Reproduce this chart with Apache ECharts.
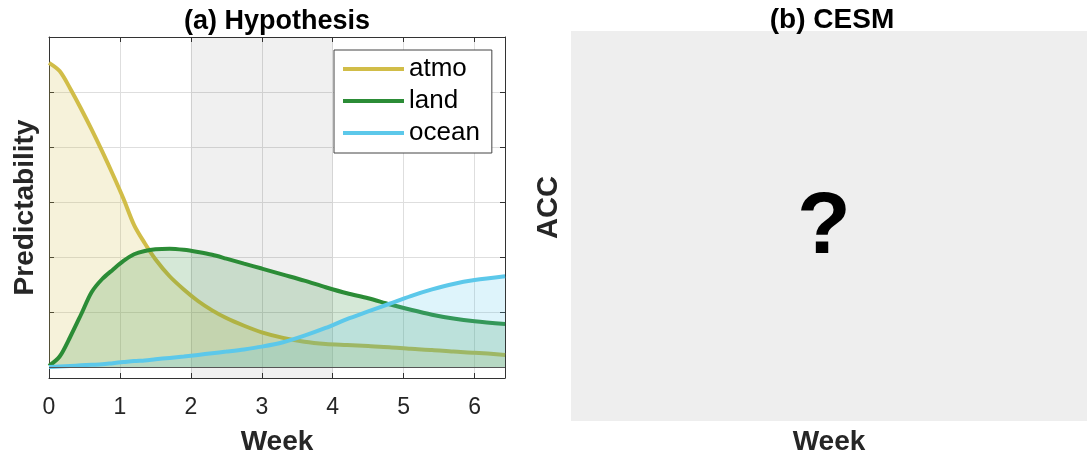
<!DOCTYPE html>
<html>
<head>
<meta charset="utf-8">
<script src="https://cdn.jsdelivr.net/npm/echarts@6/dist/echarts.min.js"></script>
<style>
html,body{margin:0;padding:0;background:#fff;}
#c{width:1087px;height:454px;}
</style>
</head>
<body>
<div id="c"></div>
<script>
// ---- data ----
const weeks = [0, 0.15, 0.3, 0.45, 0.6, 0.75, 0.9, 1.05, 1.2, 1.35, 1.5, 1.7, 1.9, 2.1, 2.3, 2.5, 2.75, 3.0, 3.3, 3.6, 3.9, 4.2, 4.5, 4.8, 5.1, 5.4, 5.7, 6.0, 6.43];
const atmo  = [0.553, 0.538, 0.506, 0.470, 0.432, 0.392, 0.350, 0.306, 0.258, 0.225, 0.196, 0.165, 0.141, 0.120, 0.103, 0.089, 0.075, 0.063, 0.053, 0.046, 0.042, 0.040, 0.038, 0.036, 0.033, 0.031, 0.028, 0.026, 0.022];
const land  = [0.002, 0.019, 0.055, 0.095, 0.136, 0.160, 0.177, 0.193, 0.205, 0.211, 0.214, 0.215, 0.213, 0.209, 0.204, 0.197, 0.188, 0.179, 0.168, 0.157, 0.145, 0.134, 0.125, 0.114, 0.104, 0.095, 0.088, 0.083, 0.078];
const ocean = [0.000, 0.001, 0.002, 0.003, 0.004, 0.005, 0.007, 0.009, 0.011, 0.012, 0.014, 0.0165, 0.019, 0.022, 0.025, 0.028, 0.032, 0.037, 0.045, 0.057, 0.071, 0.087, 0.101, 0.115, 0.129, 0.141, 0.151, 0.158, 0.165];
const seriesNames = ['atmo', 'land', 'ocean'];
const xTicks = [0, 1, 2, 3, 4, 5, 6];
const yTicks = [0, 0.1, 0.2, 0.3, 0.4, 0.5, 0.6];
const shadedWeeks = [2, 4];
const xMax = 45 / 7;
const yMin = -0.02, yMax = 0.6;

// ---- chart ----
const FONT = 'Liberation Sans, Arial, Helvetica, sans-serif';
const colors = ['#D1BD48', '#2B8C36', '#5CC8EA'];
const boxColor = '#333';
const gridColor = '#dedede';
const pairs = arr => weeks.map((w, i) => [w, arr[i]]);
const values = [atmo, land, ocean];

const chart = echarts.init(document.getElementById('c'), null, {renderer: 'canvas'});

const series = seriesNames.map((name, k) => {
  const s = {
    name: name,
    type: 'line',
    xAxisIndex: 0,
    yAxisIndex: 0,
    data: pairs(values[k]),
    symbol: 'none',
    smooth: 0.3,
    lineStyle: {color: colors[k], width: 4},
    itemStyle: {color: colors[k]},
    areaStyle: {color: colors[k], opacity: 0.2},
    z: 2 + k
  };
  if (k === 0) {
    s.markArea = {
      silent: true,
      z: 1,
      itemStyle: {color: 'rgba(0,0,0,0.06)'},
      data: [[{xAxis: shadedWeeks[0]}, {xAxis: shadedWeeks[1]}]]
    };
  }
  if (k === 2) {
    s.markLine = {
      silent: true,
      symbol: 'none',
      label: {show: false},
      lineStyle: {color: '#555', width: 1, type: 'solid'},
      data: [{yAxis: 0}]
    };
  }
  return s;
});

const hiddenAxis = (gi) => ({
  gridIndex: gi, type: 'value', min: 0, max: 1,
  axisLine: {show: false}, axisTick: {show: false}, axisLabel: {show: false}, splitLine: {show: false}
});

const option = {
  animation: false,
  backgroundColor: '#fff',
  textStyle: {fontFamily: FONT},
  grid: [
    {left: 49, top: 37, width: 456, height: 341, containLabel: false, outerBoundsMode: 'none'},
    {left: 571, top: 37, right: 0, height: 341, containLabel: false, outerBoundsMode: 'none'},
    {left: 571, top: 31, right: 0, bottom: 33, containLabel: false, outerBoundsMode: 'none',
     show: true, backgroundColor: '#eeeeee', borderWidth: 0}
  ],
  legend: {
    left: 334, top: 50,
    orient: 'vertical',
    icon: 'rect',
    itemWidth: 61, itemHeight: 4,
    itemGap: 0,
    padding: [3, 12, 4, 9],
    backgroundColor: '#fff',
    borderColor: '#444', borderWidth: 1, borderRadius: 0,
    selectedMode: false,
    textStyle: {fontSize: 26, color: '#000', fontFamily: FONT, lineHeight: 32},
    data: seriesNames
  },
  xAxis: [
    {
      gridIndex: 0, type: 'value', min: 0, max: xMax, position: 'bottom',
      axisLine: {show: true, onZero: false, lineStyle: {color: boxColor, width: 1}},
      axisTick: {show: true, inside: true, length: 5, customValues: xTicks, lineStyle: {color: boxColor}},
      axisLabel: {show: true, customValues: xTicks, fontSize: 23, color: '#262626', margin: 18, fontFamily: FONT},
      splitLine: {show: true, lineStyle: {color: gridColor, width: 1}},
      name: 'Week', nameLocation: 'middle', nameGap: 50,
      nameTextStyle: {fontSize: 28, fontWeight: 'bold', color: '#262626', fontFamily: FONT}
    },
    {
      gridIndex: 0, type: 'value', min: 0, max: xMax, position: 'top',
      axisLine: {show: true, onZero: false, lineStyle: {color: boxColor, width: 1}},
      axisTick: {show: true, inside: true, length: 5, customValues: xTicks, lineStyle: {color: boxColor}},
      axisLabel: {show: false},
      splitLine: {show: false}
    },
    Object.assign(hiddenAxis(1), {
      name: 'Week', nameLocation: 'middle', nameGap: 50,
      nameTextStyle: {fontSize: 28, fontWeight: 'bold', color: '#262626', fontFamily: FONT}
    }),
    hiddenAxis(2)
  ],
  yAxis: [
    {
      gridIndex: 0, type: 'value', min: yMin, max: yMax, position: 'left',
      axisLine: {show: true, onZero: false, lineStyle: {color: boxColor, width: 1}},
      axisTick: {show: true, inside: true, length: 5, customValues: yTicks, lineStyle: {color: boxColor}},
      axisLabel: {show: false},
      splitLine: {show: true, lineStyle: {color: gridColor, width: 1}},
      name: 'Predictability', nameLocation: 'middle', nameGap: 10, nameRotate: 90,
      nameTextStyle: {fontSize: 28, fontWeight: 'bold', color: '#262626', fontFamily: FONT}
    },
    {
      gridIndex: 0, type: 'value', min: yMin, max: yMax, position: 'right',
      axisLine: {show: true, onZero: false, lineStyle: {color: boxColor, width: 1}},
      axisTick: {show: true, inside: true, length: 5, customValues: yTicks, lineStyle: {color: boxColor}},
      axisLabel: {show: false},
      splitLine: {show: false}
    },
    Object.assign(hiddenAxis(1), {
      name: 'ACC', nameLocation: 'middle', nameGap: 8, nameRotate: 90,
      nameTextStyle: {fontSize: 29, fontWeight: 'bold', color: '#262626', fontFamily: FONT}
    }),
    hiddenAxis(2)
  ],
  graphic: [
    {type: 'text', x: 277, y: 22, z: 10,
     style: {text: '(a) Hypothesis', font: 'bold 27px ' + FONT, fill: '#000', textAlign: 'center', textVerticalAlign: 'middle'}},
    {type: 'text', x: 832, y: 20, z: 10,
     style: {text: '(b) CESM', font: 'bold 28px ' + FONT, fill: '#000', textAlign: 'center', textVerticalAlign: 'middle'}},
    {type: 'text', x: 824, y: 229, z: 10,
     style: {text: '?', font: 'bold 88px ' + FONT, fill: '#000', textAlign: 'center', textVerticalAlign: 'middle'}}
  ],
  series: series
};

chart.setOption(option);
</script>
</body>
</html>
